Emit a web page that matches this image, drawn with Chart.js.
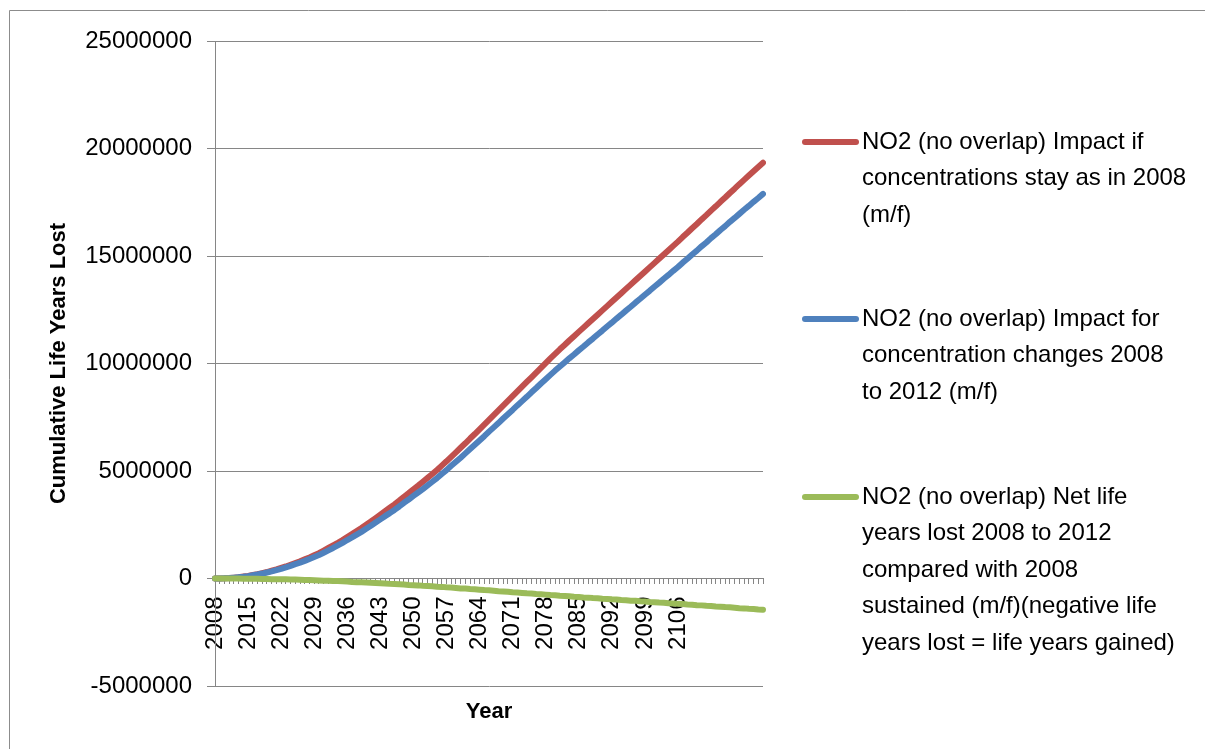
<!DOCTYPE html>
<html>
<head>
<meta charset="utf-8">
<script src="https://cdn.jsdelivr.net/npm/chart.js@4/dist/chart.umd.min.js"></script>
<style>
  body { margin: 0; background: #fff; }
  #wrap { width: 1205px; height: 749px; position: relative; }
</style>
</head>
<body>
<div id="wrap"><canvas id="myChart"></canvas></div>
<script>
// categories: one per year
const years = [
  2008, 2009, 2010, 2011, 2012, 2013, 2014, 2015, 2016, 2017,
  2018, 2019, 2020, 2021, 2022, 2023, 2024, 2025, 2026, 2027,
  2028, 2029, 2030, 2031, 2032, 2033, 2034, 2035, 2036, 2037,
  2038, 2039, 2040, 2041, 2042, 2043, 2044, 2045, 2046, 2047,
  2048, 2049, 2050, 2051, 2052, 2053, 2054, 2055, 2056, 2057,
  2058, 2059, 2060, 2061, 2062, 2063, 2064, 2065, 2066, 2067,
  2068, 2069, 2070, 2071, 2072, 2073, 2074, 2075, 2076, 2077,
  2078, 2079, 2080, 2081, 2082, 2083, 2084, 2085, 2086, 2087,
  2088, 2089, 2090, 2091, 2092, 2093, 2094, 2095, 2096, 2097,
  2098, 2099, 2100, 2101, 2102, 2103, 2104, 2105, 2106, 2107,
  2108, 2109, 2110, 2111, 2112, 2113, 2114, 2115, 2116, 2117,
  2118, 2119, 2120, 2121, 2122, 2123, 2124
];
// years that get a label on the x axis
const yearTicks = [2008, 2015, 2022, 2029, 2036, 2043, 2050, 2057, 2064, 2071, 2078, 2085, 2092, 2099, 2106];
const valueTicks = [-5000000, 0, 5000000, 10000000, 15000000, 20000000, 25000000];

const stayAs2008 = [
  0, 5000, 10000, 20000, 40000, 60000, 90000, 120000, 160000, 200000,
  250000, 300000, 360000, 420000, 490000, 560000, 640000, 720000, 800000, 890000,
  980000, 1080000, 1180000, 1300000, 1420000, 1540000, 1660000, 1790000, 1930000, 2070000,
  2210000, 2350000, 2500000, 2650000, 2810000, 2970000, 3130000, 3290000, 3450000, 3620000,
  3800000, 3970000, 4150000, 4320000, 4500000, 4680000, 4860000, 5050000, 5250000, 5450000,
  5660000, 5870000, 6080000, 6290000, 6510000, 6720000, 6940000, 7160000, 7380000, 7600000,
  7820000, 8040000, 8260000, 8480000, 8700000, 8920000, 9140000, 9360000, 9580000, 9800000,
  10020000, 10240000, 10450000, 10660000, 10860000, 11070000, 11270000, 11470000, 11670000, 11870000,
  12070000, 12270000, 12470000, 12670000, 12870000, 13070000, 13270000, 13470000, 13670000, 13870000,
  14070000, 14270000, 14470000, 14670000, 14870000, 15070000, 15270000, 15470000, 15670000, 15880000,
  16080000, 16290000, 16490000, 16700000, 16900000, 17110000, 17310000, 17520000, 17720000, 17930000,
  18130000, 18340000, 18540000, 18740000, 18940000, 19140000, 19340000
];
const changes2008to2012 = [
  0, 0, 10000, 20000, 40000, 60000, 80000, 110000, 150000, 190000,
  230000, 280000, 330000, 390000, 450000, 520000, 590000, 670000, 740000, 820000,
  910000, 1000000, 1090000, 1200000, 1310000, 1420000, 1540000, 1660000, 1790000, 1910000,
  2040000, 2170000, 2310000, 2450000, 2600000, 2750000, 2900000, 3040000, 3190000, 3350000,
  3520000, 3670000, 3840000, 4000000, 4160000, 4330000, 4500000, 4670000, 4860000, 5040000,
  5240000, 5430000, 5620000, 5820000, 6020000, 6220000, 6420000, 6620000, 6830000, 7030000,
  7230000, 7440000, 7640000, 7840000, 8050000, 8250000, 8450000, 8660000, 8860000, 9070000,
  9270000, 9470000, 9670000, 9860000, 10050000, 10240000, 10420000, 10610000, 10790000, 10980000,
  11160000, 11350000, 11530000, 11720000, 11900000, 12090000, 12270000, 12460000, 12640000, 12830000,
  13010000, 13200000, 13380000, 13570000, 13750000, 13940000, 14120000, 14310000, 14490000, 14690000,
  14870000, 15070000, 15250000, 15450000, 15630000, 15830000, 16010000, 16210000, 16390000, 16590000,
  16770000, 16960000, 17150000, 17330000, 17520000, 17700000, 17890000
];
const netLost = [
  0, 0, 0, 0, 0, 0, -10000, -10000, -10000, -10000,
  -20000, -20000, -30000, -30000, -40000, -40000, -50000, -50000, -60000, -70000,
  -70000, -80000, -90000, -100000, -110000, -120000, -120000, -130000, -140000, -160000,
  -170000, -180000, -190000, -200000, -210000, -220000, -230000, -250000, -260000, -270000,
  -280000, -300000, -310000, -320000, -340000, -350000, -360000, -380000, -390000, -410000,
  -420000, -440000, -460000, -470000, -490000, -500000, -520000, -540000, -550000, -570000,
  -590000, -600000, -620000, -640000, -650000, -670000, -690000, -700000, -720000, -730000,
  -750000, -770000, -780000, -800000, -810000, -830000, -850000, -860000, -880000, -890000,
  -910000, -920000, -940000, -950000, -970000, -980000, -1000000, -1010000, -1030000, -1040000,
  -1060000, -1070000, -1090000, -1100000, -1120000, -1130000, -1150000, -1160000, -1180000, -1190000,
  -1210000, -1220000, -1240000, -1250000, -1270000, -1280000, -1300000, -1310000, -1330000, -1340000,
  -1360000, -1380000, -1390000, -1410000, -1420000, -1440000, -1450000
];

// legend text, already broken into the lines the original shows
const seriesNames = [
  ['NO2 (no overlap) Impact if', 'concentrations stay as in 2008', '(m/f)'],
  ['NO2 (no overlap) Impact for', 'concentration changes 2008', 'to 2012 (m/f)'],
  ['NO2 (no overlap) Net life', 'years lost 2008 to 2012', 'compared with 2008', 'sustained (m/f)(negative life', 'years lost = life years gained)']
];

const FONT = '"Liberation Sans", Arial, sans-serif';
const GRID = '#868686';

const frame = {
  id: 'frame',
  beforeDraw(chart) {
    const c = chart.ctx;
    c.save();
    c.fillStyle = '#fff';
    c.fillRect(0, 0, chart.width, chart.height);
    c.strokeStyle = '#8c8c8c';
    c.lineWidth = 1;
    c.beginPath();
    c.moveTo(9.5, chart.height);
    c.lineTo(9.5, 10.5);
    c.lineTo(chart.width, 10.5);
    c.stroke();
    c.restore();
  }
};

// legend on the right with wrapped names
const sideLegend = {
  id: 'sideLegend',
  afterDraw(chart) {
    const c = chart.ctx;
    const x0 = chart.chartArea.right + 39;
    const tops = [142, 319, 497];
    const lh = 36.5;
    c.save();
    c.font = '24px ' + FONT;
    c.textBaseline = 'middle';
    c.textAlign = 'left';
    chart.data.datasets.forEach(function (ds, i) {
      const y = tops[i];
      c.strokeStyle = ds.borderColor;
      c.lineWidth = 6;
      c.lineCap = 'round';
      c.beginPath();
      c.moveTo(x0 + 3, y);
      c.lineTo(x0 + 54, y);
      c.stroke();
      c.fillStyle = '#000';
      seriesNames[i].forEach(function (line, k) {
        c.fillText(line, x0 + 60, y + k * lh);
      });
    });
    c.restore();
  }
};

const ctx = document.getElementById('myChart');
new Chart(ctx, {
  type: 'line',
  data: {
    labels: years,
    datasets: [
      { label: seriesNames[0].join(' '), data: stayAs2008, borderColor: '#C0504D', order: 3 },
      { label: seriesNames[1].join(' '), data: changes2008to2012, borderColor: '#4F81BD', order: 2 },
      { label: seriesNames[2].join(' '), data: netLost, borderColor: '#9BBB59', order: 1 }
    ]
  },
  options: {
    responsive: true,
    maintainAspectRatio: false,
    animation: false,
    devicePixelRatio: 1,
    layout: { padding: { left: 0, top: 41, right: 442, bottom: 63 } },
    elements: {
      point: { radius: 0 },
      line: { borderWidth: 6, tension: 0, borderCapStyle: 'round', borderJoinStyle: 'round', fill: false }
    },
    plugins: {
      legend: { display: false },
      tooltip: { enabled: false }
    },
    scales: {
      x: {
        type: 'category',
        position: { y: 0 },
        offset: false,
        grid: { drawOnChartArea: false, drawTicks: true, tickLength: 5, color: GRID },
        border: { color: GRID, width: 1 },
        ticks: {
          autoSkip: false,
          minRotation: 90,
          maxRotation: 90,
          padding: 13,
          color: '#000',
          font: { family: FONT, size: 24 },
          callback: function (v, i) {
            return yearTicks.indexOf(years[i]) >= 0 ? String(years[i]) : '';
          }
        },
        title: {
          display: true,
          text: 'Year',
          color: '#000',
          font: { family: FONT, size: 22, weight: 'bold' },
          padding: { top: 36, bottom: 0 }
        }
      },
      y: {
        min: valueTicks[0],
        max: valueTicks[valueTicks.length - 1],
        afterBuildTicks: function (axis) {
          axis.ticks = valueTicks.map(v => ({ value: v }));
        },
        afterFit: function (axis) { axis.width = 215; },
        grid: { color: GRID, tickLength: 8, drawTicks: true },
        border: { color: GRID, width: 1 },
        ticks: {
          padding: 15,
          color: '#000',
          font: { family: FONT, size: 24 },
          callback: v => String(v)
        },
        title: {
          display: true,
          text: 'Cumulative Life Years Lost',
          color: '#000',
          font: { family: FONT, size: 22, weight: 'bold' },
          padding: { top: 46, bottom: 0 }
        }
      }
    }
  },
  plugins: [frame, sideLegend]
});
</script>
</body>
</html>
